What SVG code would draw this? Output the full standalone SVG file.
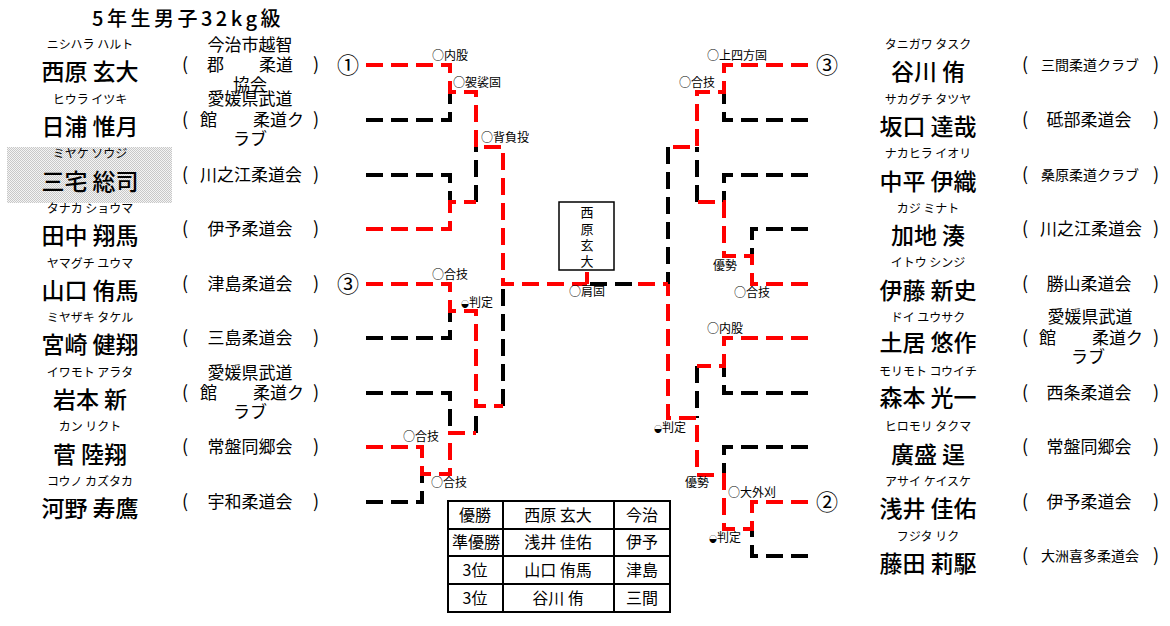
<svg xmlns="http://www.w3.org/2000/svg" width="1170" height="626" viewBox="0 0 1170 626">
<style>
text{font-family:"Noto Sans CJK JP","Noto Sans",sans-serif;fill:#000}
.title{font-size:20px;letter-spacing:3.5px;font-weight:500}
.furi{font-size:12px;text-anchor:middle}
.name{font-size:23px;text-anchor:middle;font-weight:500}
.club{font-size:17px;text-anchor:middle}
.clubs{font-size:14px;text-anchor:middle}
.cl{font-size:17px}
.par{font-size:18px;text-anchor:middle}
.lab{font-size:12px}
.num{font-size:22px;text-anchor:middle}
.tb{font-size:16px;text-anchor:middle}
.box{font-size:13px;text-anchor:middle}
.r{fill:none;stroke:#ff0000;stroke-width:4;stroke-dasharray:17 8}
.k{fill:none;stroke:#000;stroke-width:4;stroke-dasharray:17 8}
</style>
<defs>
<pattern id="dots" width="2" height="2" patternUnits="userSpaceOnUse">
<rect width="2" height="2" fill="#f4f4f4"/>
<rect width="1" height="1" fill="#c8c8c8"/>
<rect x="1" y="1" width="1" height="1" fill="#c8c8c8"/>
</pattern>
</defs>
<rect width="1170" height="626" fill="#fff"/>
<text class="title" x="92" y="26">5年生男子32kg級</text>

<g id="left-players">
<g id="L1"><text class="furi" x="90" y="49">ニシハラ ハルト</text><text class="name" x="90" y="80">西原 玄大</text>
<text class="par" x="185" y="71">(</text><text class="par" x="316" y="71">)</text>
<text class="club" x="250" y="51">今治市越智</text><text class="cl" x="207" y="71">郡</text><text class="cl" x="259" y="71">柔道</text><text class="club" x="250" y="91">協会</text></g>
<g id="L2"><text class="furi" x="90" y="104">ヒウラ イツキ</text><text class="name" x="90" y="135">日浦 惟月</text>
<text class="par" x="185" y="126">(</text><text class="par" x="316" y="126">)</text>
<text class="club" x="250" y="105">愛媛県武道</text><text class="cl" x="200" y="126">館</text><text class="cl" x="253" y="126">柔道ク</text><text class="club" x="250" y="145">ラブ</text></g>
<g id="L3"><rect x="7" y="147" width="165" height="56" fill="url(#dots)"/><text class="furi" x="90" y="158">ミヤケ ソウジ</text><text class="name" x="90" y="190">三宅 総司</text>
<text class="par" x="185" y="181">(</text><text class="par" x="316" y="181">)</text><text class="club" x="251" y="181">川之江柔道会</text></g>
<g id="L4"><text class="furi" x="90" y="213">タナカ ショウマ</text><text class="name" x="90" y="244">田中 翔馬</text>
<text class="par" x="185" y="235">(</text><text class="par" x="316" y="235">)</text><text class="club" x="250" y="235">伊予柔道会</text></g>
<g id="L5"><text class="furi" x="90" y="268">ヤマグチ ユウマ</text><text class="name" x="90" y="299">山口 侑馬</text>
<text class="par" x="185" y="290">(</text><text class="par" x="316" y="290">)</text><text class="club" x="250" y="290">津島柔道会</text></g>
<g id="L6"><text class="furi" x="90" y="322">ミヤザキ タケル</text><text class="name" x="90" y="353">宮崎 健翔</text>
<text class="par" x="185" y="344">(</text><text class="par" x="316" y="344">)</text><text class="club" x="250" y="344">三島柔道会</text></g>
<g id="L7"><text class="furi" x="90" y="377">イワモト アラタ</text><text class="name" x="90" y="408">岩本 新</text>
<text class="par" x="185" y="399">(</text><text class="par" x="316" y="399">)</text>
<text class="club" x="250" y="379">愛媛県武道</text><text class="cl" x="200" y="399">館</text><text class="cl" x="253" y="399">柔道ク</text><text class="club" x="250" y="418">ラブ</text></g>
<g id="L8"><text class="furi" x="90" y="431">カン リクト</text><text class="name" x="90" y="463">菅 陸翔</text>
<text class="par" x="185" y="453">(</text><text class="par" x="316" y="453">)</text><text class="club" x="250" y="453">常盤同郷会</text></g>
<g id="L9"><text class="furi" x="90" y="486">コウノ カズタカ</text><text class="name" x="90" y="517">河野 寿鷹</text>
<text class="par" x="185" y="508">(</text><text class="par" x="316" y="508">)</text><text class="club" x="250" y="508">宇和柔道会</text></g>
</g>

<g id="right-players">
<g id="R1"><text class="furi" x="928" y="49">タニガワ タスク</text><text class="name" x="928" y="80">谷川 侑</text>
<text class="par" x="1025" y="71">(</text><text class="par" x="1156" y="71">)</text><text class="clubs" x="1090" y="70">三間柔道クラブ</text></g>
<g id="R2"><text class="furi" x="928" y="104">サカグチ タツヤ</text><text class="name" x="928" y="135">坂口 達哉</text>
<text class="par" x="1025" y="126">(</text><text class="par" x="1156" y="126">)</text><text class="club" x="1089" y="126">砥部柔道会</text></g>
<g id="R3"><text class="furi" x="928" y="158">ナカヒラ イオリ</text><text class="name" x="928" y="190">中平 伊織</text>
<text class="par" x="1025" y="181">(</text><text class="par" x="1156" y="181">)</text><text class="clubs" x="1090" y="180">桑原柔道クラブ</text></g>
<g id="R4"><text class="furi" x="928" y="213">カジ ミナト</text><text class="name" x="928" y="244">加地 湊</text>
<text class="par" x="1025" y="235">(</text><text class="par" x="1156" y="235">)</text><text class="club" x="1091" y="235">川之江柔道会</text></g>
<g id="R5"><text class="furi" x="928" y="267">イトウ シンジ</text><text class="name" x="928" y="299">伊藤 新史</text>
<text class="par" x="1025" y="290">(</text><text class="par" x="1156" y="290">)</text><text class="club" x="1089" y="290">勝山柔道会</text></g>
<g id="R6"><text class="furi" x="928" y="322">ドイ ユウサク</text><text class="name" x="928" y="351">土居 悠作</text>
<text class="par" x="1025" y="344">(</text><text class="par" x="1156" y="344">)</text>
<text class="club" x="1090" y="323">愛媛県武道</text><text class="cl" x="1039" y="344">館</text><text class="cl" x="1092" y="344">柔道ク</text><text class="club" x="1088" y="363">ラブ</text></g>
<g id="R7"><text class="furi" x="928" y="376">モリモト コウイチ</text><text class="name" x="928" y="406">森本 光一</text>
<text class="par" x="1025" y="399">(</text><text class="par" x="1156" y="399">)</text><text class="club" x="1089" y="399">西条柔道会</text></g>
<g id="R8"><text class="furi" x="928" y="431">ヒロモリ タクマ</text><text class="name" x="928" y="463">廣盛 逞</text>
<text class="par" x="1025" y="453">(</text><text class="par" x="1156" y="453">)</text><text class="club" x="1089" y="453">常盤同郷会</text></g>
<g id="R9"><text class="furi" x="928" y="486">アサイ ケイスケ</text><text class="name" x="928" y="517">浅井 佳佑</text>
<text class="par" x="1025" y="508">(</text><text class="par" x="1156" y="508">)</text><text class="club" x="1089" y="508">伊予柔道会</text></g>
<g id="R10"><text class="furi" x="928" y="541">フジタ リク</text><text class="name" x="928" y="572">藤田 莉駆</text>
<text class="par" x="1025" y="562">(</text><text class="par" x="1156" y="562">)</text><text class="clubs" x="1090" y="561">大洲喜多柔道会</text></g>
</g>

<g id="connectors">
<path class="k" d="M366,120 H450 V92"/>
<path class="k" d="M366,175 H450 V202"/>
<path class="k" d="M476,202 V147"/>
<path class="k" d="M366,338 H450 V311"/>
<path class="k" d="M366,393 H450 V433"/>
<path class="k" d="M366,502 H422 V474"/>
<path class="k" d="M476,433 V406"/>
<path class="k" d="M503,406 V284"/>
<path class="k" d="M590,284 H638"/>
<path class="k" d="M808,120 H724 V92"/>
<path class="k" d="M808,175 H724 V202"/>
<path class="k" d="M808,229 H752 V256"/>
<path class="k" d="M697,202 V147"/>
<path class="k" d="M668,147 V284"/>
<path class="k" d="M808,393 H724 V366"/>
<path class="k" d="M697,366 V418"/>
<path class="k" d="M808,447 H724 V475"/>
<path class="k" d="M808,556 H752 V529"/>

<path class="r" d="M366,65 H450 V92 H476 V147 H503 V284 H587"/>
<path class="r" d="M587,272 V284"/>
<path class="r" d="M366,229 H450 V202 H476"/>
<path class="r" d="M366,284 H450 V311 H476 V406 H503"/>
<path class="r" d="M366,447 H422 V474 H450 V433 H476"/>
<path class="r" d="M638,284 H668"/>
<path class="r" d="M808,65 H724 V92 H697 V147 H668"/>
<path class="r" d="M808,284 H752 V256 H724 V202 H697"/>
<path class="r" d="M808,338 H724 V366 H697"/>
<path class="r" d="M808,502 H752 V529 H724 V475 H697 V418 H668 V284"/>
</g>

<g id="labels">
<text class="num" x="348" y="73">①</text>
<text class="num" x="348" y="292">③</text>
<text class="num" x="827" y="73">③</text>
<text class="num" x="827" y="510">②</text>
<text class="lab" x="432" y="60">○内股</text>
<text class="lab" x="453" y="87">○袈裟固</text>
<text class="lab" x="481" y="142">○背負投</text>
<text class="lab" x="432" y="279">○合技</text>
<text class="lab" x="461" y="307"><tspan font-size="8">◒</tspan>判定</text>
<text class="lab" x="403" y="441">○合技</text>
<text class="lab" x="431" y="487">○合技</text>
<text class="lab" x="569" y="296">○肩固</text>
<text class="lab" x="707" y="60">○上四方固</text>
<text class="lab" x="679" y="87">○合技</text>
<text class="lab" x="713" y="270">優勢</text>
<text class="lab" x="734" y="297">○合技</text>
<text class="lab" x="707" y="333">○内股</text>
<text class="lab" x="654" y="432"><tspan font-size="8">◒</tspan>判定</text>
<text class="lab" x="685" y="487">優勢</text>
<text class="lab" x="728" y="497">○大外刈</text>
<text class="lab" x="709" y="542"><tspan font-size="8">◒</tspan>判定</text>
</g>

<g id="winner-box">
<rect x="559" y="202" width="55" height="68" fill="#fff" stroke="#000" stroke-width="1.5"/>
<text class="box" x="587" y="217">西</text>
<text class="box" x="587" y="234">原</text>
<text class="box" x="587" y="250">玄</text>
<text class="box" x="587" y="266">大</text>
</g>

<g id="results-table">
<g fill="none" stroke="#000" stroke-width="2">
<rect x="448" y="501" width="222" height="111"/>
<path d="M503,501 V612 M614,501 V612 M448,529 H670 M448,556 H670 M448,584 H670"/>
</g>
<text class="tb" x="475" y="521">優勝</text><text class="tb" x="558" y="521">西原 玄大</text><text class="tb" x="642" y="521">今治</text>
<text class="tb" x="476" y="548">準優勝</text><text class="tb" x="558" y="548">浅井 佳佑</text><text class="tb" x="642" y="548">伊予</text>
<text class="tb" x="475" y="576">3位</text><text class="tb" x="558" y="576">山口 侑馬</text><text class="tb" x="642" y="576">津島</text>
<text class="tb" x="475" y="604">3位</text><text class="tb" x="558" y="604">谷川 侑</text><text class="tb" x="642" y="604">三間</text>
</g>
</svg>
